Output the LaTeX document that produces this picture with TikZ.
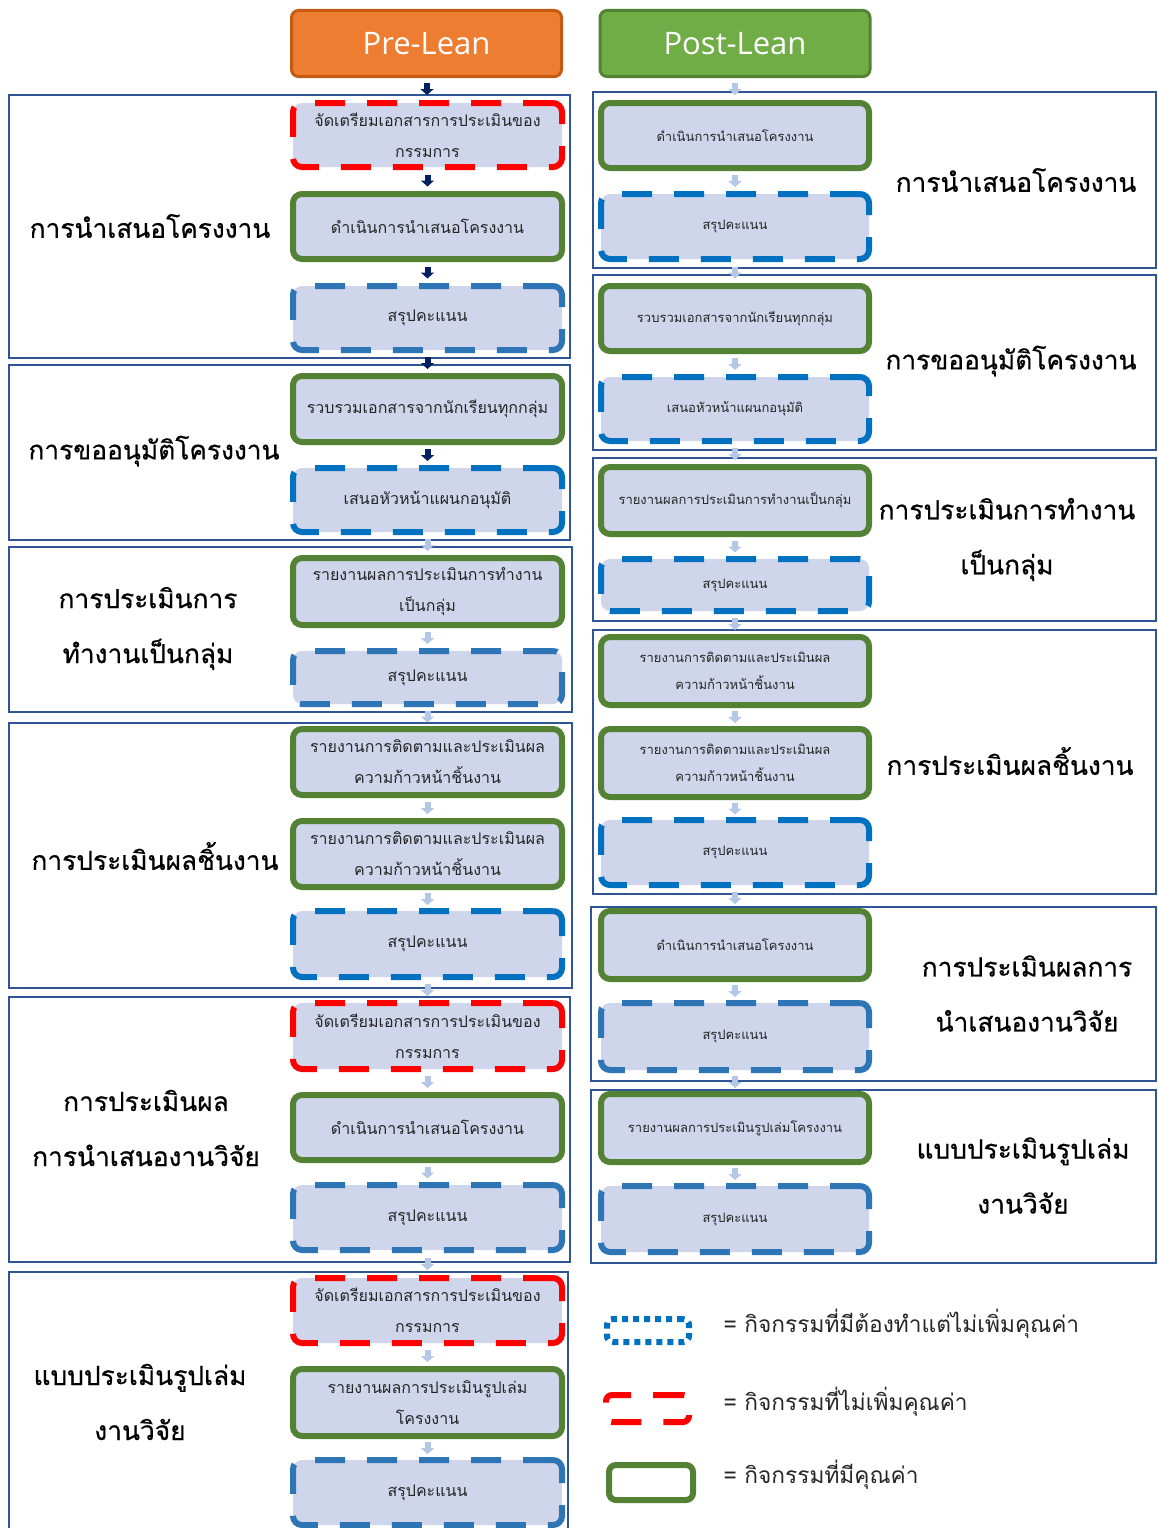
\documentclass[tikz,border=0pt]{standalone}
\usepackage{fontspec}
\newfontfamily\thai[Script=Thai]{Loma}
\newfontfamily\thaiheavy[Script=Thai,FakeBold=0.6]{Loma}
\newfontfamily\hdrfont{Open Sans}
\usetikzlibrary{arrows.meta,calc}
\definecolor{boxfill}{HTML}{CFD5EA}
\definecolor{gborder}{HTML}{548235}
\definecolor{bdull}{HTML}{2E75B6}
\definecolor{bbright}{HTML}{0070C0}
\definecolor{redb}{HTML}{FF0000}
\definecolor{framec}{HTML}{2F5597}
\definecolor{darkarr}{HTML}{002060}
\definecolor{lightarr}{HTML}{B4C7E7}
\definecolor{orangef}{HTML}{ED7D31}
\definecolor{orangeb}{HTML}{C55A11}
\definecolor{greenf}{HTML}{70AD47}
\definecolor{greenb}{HTML}{548235}
\definecolor{txt}{HTML}{262626}
\tikzset{
  actbox/.style={rectangle, rounded corners=9pt, fill=boxfill, line width=6pt, align=center,
    inner sep=0pt, text=txt},
  lbox/.style={actbox, minimum width=269pt, font=\thai\fontsize{16}{31}\selectfont},
  rbox/.style={actbox, minimum width=268pt, font=\thai\fontsize{13}{27}\selectfont},
  valbox/.style={draw=gborder},
  dullbox/.style={draw=bdull, dash pattern=on 30pt off 22pt},
  brightbox/.style={draw=bbright, dash pattern=on 30pt off 22pt},
  redbox/.style={draw=redb, dash pattern=on 30pt off 22pt},
  grpframe/.style={draw=framec, line width=2.5pt},
  grplabel/.style={font=\thaiheavy\fontsize{26.3}{55}\selectfont, align=center, text=black},
  hdr/.style={rectangle, rounded corners=7pt, line width=3pt, minimum width=270pt, minimum height=66pt,
    text=white, font=\hdrfont\fontsize{31}{36}\selectfont},
  darkflow/.style={line width=6pt, draw=darkarr, -{Triangle[width=13pt,length=6pt]}},
  lightflow/.style={line width=6pt, draw=lightarr, -{Triangle[width=13pt,length=6pt]}},
  legtext/.style={anchor=base west, font=\thai\fontsize{22.7}{28}\selectfont, text=txt},
}
\newcommand\flowarrow[3]{%
  \path (#2.south) -- coordinate[midway] (m#2#3) (#3.north);
  \draw[#1] ([yshift=6pt]m#2#3) -- ([yshift=-6pt]m#2#3);}
\begin{document}
\begin{tikzpicture}[x=1pt,y=-1pt]
\useasboundingbox (0,0) rectangle (1157,1528);
\clip (0,0) rectangle (1157,1528);
\fill[white] (0,0) rectangle (1157,1528);

% headers
\node[hdr, fill=orangef, draw=orangeb] (pre) at (426.5,43.5) {Pre-Lean};
\node[hdr, fill=greenf, draw=greenb] (post) at (735,43.5) {Post-Lean};

% left group frames
\draw[grpframe] (9,95) rectangle (570,358);
\draw[grpframe] (9,365) rectangle (570,540);
\draw[grpframe] (9,547) rectangle (572,712);
\draw[grpframe] (9,723) rectangle (572,988);
\draw[grpframe] (9,997) rectangle (570,1262);
\draw[grpframe] (9,1272) rectangle (568,1540);

% right group frames
\draw[grpframe] (593,92) rectangle (1156,268);
\draw[grpframe] (593,275) rectangle (1156,450);
\draw[grpframe] (593,458) rectangle (1156,621);
\draw[grpframe] (593,630) rectangle (1156,894);
\draw[grpframe] (591,907) rectangle (1156,1081);
\draw[grpframe] (591,1090) rectangle (1156,1263);

% left boxes
\node[lbox, redbox, minimum height=64pt] (L1) at (427.5,135) {จัดเตรียมเอกสารการประเมินของ\\กรรมการ};
\node[lbox, valbox, minimum height=65pt] (L2) at (427.5,226.5) {ดำเนินการนำเสนอโครงงาน};
\node[lbox, dullbox, minimum height=64pt] (L3) at (427.5,318) {สรุปคะแนน};
\node[lbox, valbox, minimum height=66pt] (L4) at (427.5,409) {รวบรวมเอกสารจากนักเรียนทุกกลุ่ม};
\node[lbox, brightbox, minimum height=64pt] (L5) at (427.5,500) {เสนอหัวหน้าแผนกอนุมัติ};
\node[lbox, valbox, minimum height=67pt] (L6) at (427.5,591.5) {รายงานผลการประเมินการทำงาน\\เป็นกลุ่ม};
\node[lbox, dullbox, minimum height=53pt] (L7) at (427.5,677.5) {สรุปคะแนน};
\node[lbox, valbox, minimum height=66pt] (L8) at (427.5,762) {รายงานการติดตามและประเมินผล\\ความก้าวหน้าชิ้นงาน};
\node[lbox, valbox, minimum height=66pt] (L9) at (427.5,854) {รายงานการติดตามและประเมินผล\\ความก้าวหน้าชิ้นงาน};
\node[lbox, brightbox, minimum height=66pt] (L10) at (427.5,944) {สรุปคะแนน};
\node[lbox, redbox, minimum height=66pt] (L11) at (427.5,1036) {จัดเตรียมเอกสารการประเมินของ\\กรรมการ};
\node[lbox, valbox, minimum height=65pt] (L12) at (427.5,1127.5) {ดำเนินการนำเสนอโครงงาน};
\node[lbox, dullbox, minimum height=65pt] (L13) at (427.5,1217.5) {สรุปคะแนน};
\node[lbox, redbox, minimum height=65pt] (L14) at (427.5,1310.5) {จัดเตรียมเอกสารการประเมินของ\\กรรมการ};
\node[lbox, valbox, minimum height=67pt] (L15) at (427.5,1402.5) {รายงานผลการประเมินรูปเล่ม\\โครงงาน};
\node[lbox, dullbox, minimum height=65pt] (L16) at (427.5,1492.5) {สรุปคะแนน};

% right boxes
\node[rbox, valbox, minimum height=65pt] (R1) at (735,135.5) {ดำเนินการนำเสนอโครงงาน};
\node[rbox, brightbox, minimum height=65pt] (R2) at (735,226.5) {สรุปคะแนน};
\node[rbox, valbox, minimum height=65pt] (R3) at (735,318.5) {รวบรวมเอกสารจากนักเรียนทุกกลุ่ม};
\node[rbox, brightbox, minimum height=64pt] (R4) at (735,409) {เสนอหัวหน้าแผนกอนุมัติ};
\node[rbox, valbox, minimum height=67pt] (R5) at (735,500.5) {รายงานผลการประเมินการทำงานเป็นกลุ่ม};
\node[rbox, brightbox, minimum height=52pt] (R6) at (735,585) {สรุปคะแนน};
\node[rbox, valbox, minimum height=68pt] (R7) at (735,671) {รายงานการติดตามและประเมินผล\\ความก้าวหน้าชิ้นงาน};
\node[rbox, valbox, minimum height=68pt] (R8) at (735,763) {รายงานการติดตามและประเมินผล\\ความก้าวหน้าชิ้นงาน};
\node[rbox, brightbox, minimum height=65pt] (R9) at (735,852.5) {สรุปคะแนน};
\node[rbox, valbox, minimum height=68pt] (R10) at (735,945) {ดำเนินการนำเสนอโครงงาน};
\node[rbox, dullbox, minimum height=67pt] (R11) at (735,1036.5) {สรุปคะแนน};
\node[rbox, valbox, minimum height=68pt] (R12) at (735,1128) {รายงานผลการประเมินรูปเล่มโครงงาน};
\node[rbox, dullbox, minimum height=66pt] (R13) at (735,1219) {สรุปคะแนน};

% group labels, left
\node[grplabel] (lg1) at (150,226) {การนำเสนอโครงงาน};
\node[grplabel] (lg2) at (154,451) {การขออนุมัติโครงงาน};
\node[grplabel] (lg3) at (148,628.5) {การประเมินการ\\ทำงานเป็นกลุ่ม};
\node[grplabel] (lg4) at (155,856) {การประเมินผลชิ้นงาน};
\node[grplabel] (lg5) at (146,1128) {การประเมินผล\\การนำเสนองานวิจัย};
\node[grplabel] (lg6) at (140,1402) {แบบประเมินรูปเล่ม\\งานวิจัย};

% group labels, right
\node[grplabel] (rg1) at (1016,180) {การนำเสนอโครงงาน};
\node[grplabel] (rg2) at (1011,361) {การขออนุมัติโครงงาน};
\node[grplabel] (rg3) at (1007,539.5) {การประเมินการทำงาน\\เป็นกลุ่ม};
\node[grplabel] (rg4) at (1010,761) {การประเมินผลชิ้นงาน};
\node[grplabel] (rg5) at (1027,993.5) {การประเมินผลการ\\นำเสนองานวิจัย};
\node[grplabel] (rg6) at (1023,1175.5) {แบบประเมินรูปเล่ม\\งานวิจัย};

% legend
\node[rectangle, rounded corners=6pt, line width=6pt, draw=bbright, dash pattern=on 6pt off 5pt,
  minimum width=82pt, minimum height=23pt] (leg1) at (648,1330.5) {};
\node[rectangle, rounded corners=6pt, line width=6pt, draw=redb, dash pattern=on 30pt off 22pt,
  minimum width=83pt, minimum height=27pt] (leg2) at (647.5,1408.5) {};
\node[rectangle, rounded corners=7pt, line width=6pt, draw=gborder, fill=white,
  minimum width=84pt, minimum height=35pt] (leg3) at (651,1482.5) {};
\node[legtext] (lt1) at (720,1332) {= กิจกรรมที่มีต้องทำแต่ไม่เพิ่มคุณค่า};
\node[legtext] (lt2) at (720,1410) {= กิจกรรมที่ไม่เพิ่มคุณค่า};
\node[legtext] (lt3) at (720,1483) {= กิจกรรมที่มีคุณค่า};

% flow arrows, left
\flowarrow{darkflow}{pre}{L1}
\flowarrow{darkflow}{L1}{L2}
\flowarrow{darkflow}{L2}{L3}
\flowarrow{darkflow}{L3}{L4}
\flowarrow{darkflow}{L4}{L5}
\flowarrow{lightflow}{L5}{L6}
\flowarrow{lightflow}{L6}{L7}
\flowarrow{lightflow}{L7}{L8}
\flowarrow{lightflow}{L8}{L9}
\flowarrow{lightflow}{L9}{L10}
\flowarrow{lightflow}{L10}{L11}
\flowarrow{lightflow}{L11}{L12}
\flowarrow{lightflow}{L12}{L13}
\flowarrow{lightflow}{L13}{L14}
\flowarrow{lightflow}{L14}{L15}
\flowarrow{lightflow}{L15}{L16}

% flow arrows, right
\flowarrow{lightflow}{post}{R1}
\flowarrow{lightflow}{R1}{R2}
\flowarrow{lightflow}{R2}{R3}
\flowarrow{lightflow}{R3}{R4}
\flowarrow{lightflow}{R4}{R5}
\flowarrow{lightflow}{R5}{R6}
\flowarrow{lightflow}{R6}{R7}
\flowarrow{lightflow}{R7}{R8}
\flowarrow{lightflow}{R8}{R9}
\flowarrow{lightflow}{R9}{R10}
\flowarrow{lightflow}{R10}{R11}
\flowarrow{lightflow}{R11}{R12}
\flowarrow{lightflow}{R12}{R13}
\end{tikzpicture}
\end{document}
